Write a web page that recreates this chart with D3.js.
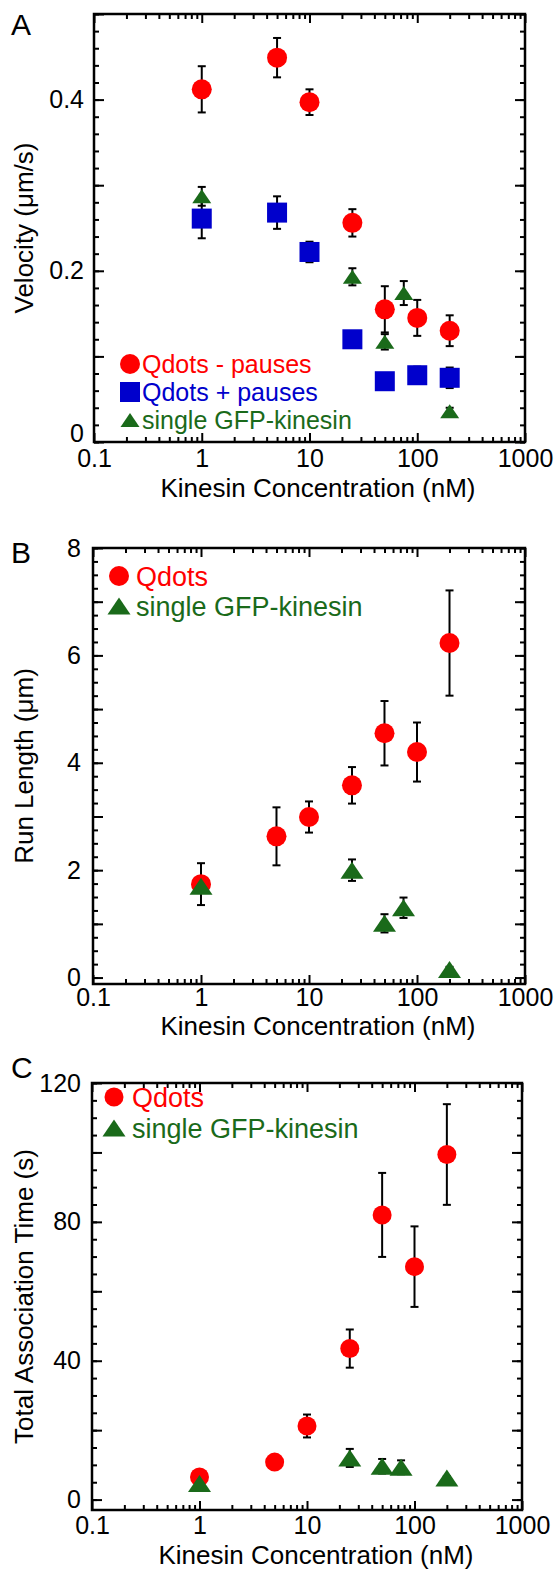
<!DOCTYPE html>
<html>
<head>
<meta charset="utf-8">
<script src="https://cdn.jsdelivr.net/npm/d3@7"></script>
<style>
  body { margin: 0; background: #fff; }
  svg { display: block; }
  text { font-family: "Liberation Sans", Arial, Helvetica, sans-serif; }
</style>
</head>
<body>
<svg width="554" height="1569"></svg>
<script>
// kinesin concentrations (nM)
const conc = [1, 5, 10, 25, 50, 100, 200];
const concGFP = [1, 25, 50, 75, 200];

// A: velocity (um/s)
const velQdotsMinus = [0.412, 0.449, 0.397, 0.256, 0.155, 0.145, 0.130];
const velQdotsMinusErr = [0.027, 0.023, 0.015, 0.016, 0.027, 0.021, 0.018];
const velQdotsPlus = [0.261, 0.268, 0.222, 0.120, 0.071, 0.078, 0.075];
const velQdotsPlusErr = [0.023, 0.019, 0.012, 0.006, 0.005, 0.010, 0.012];
const velGFP = [0.287, 0.193, 0.117, 0.174, 0.036];
const velGFPErr = [0.011, 0.010, 0.009, 0.014, 0.004];

// B: run length (um)
const runQdots = [1.74, 2.63, 2.99, 3.58, 4.55, 4.20, 6.23];
const runQdotsErr = [0.39, 0.54, 0.29, 0.34, 0.60, 0.55, 0.98];
const runGFP = [1.70, 2.00, 1.01, 1.30, 0.15];
const runGFPErr = [0.10, 0.20, 0.17, 0.19, 0.05];

// C: total association time (s)
const timeQdots = [6.5, 10.8, 21.2, 43.5, 82.0, 67.1, 99.4];
const timeQdotsErr = [1.0, 1.7, 3.3, 5.5, 12.1, 11.6, 14.5];
const timeGFP = [4.6, 12.0, 9.6, 9.3, 6.2];
const timeGFPErr = [0.5, 2.6, 2.1, 2.0, 0.5];

const xMajor = [0.1, 1, 10, 100, 1000];
const xMinor = [0.1, 1, 10, 100].flatMap(d => d3.range(2, 10).map(k => d * k));

const RED = '#ff0000', BLUE = '#0000cc', GREEN = '#1a6a1a';
const TICK_FS = 25, TITLE_FS = 26;

const svg = d3.select('svg');

const triPath = (w, h) => `M${-w / 2},${h / 2}L${w / 2},${h / 2}L0,${-h / 2}Z`;

const drawMarker = (sel, shape, color, size) => {
  if (shape === 'circle') {
    sel.append('circle').attr('r', size.r).attr('fill', color);
  } else if (shape === 'square') {
    sel.append('rect')
      .attr('x', -size.s / 2).attr('y', -size.s / 2)
      .attr('width', size.s).attr('height', size.s)
      .attr('fill', color);
  } else {
    sel.append('path').attr('d', triPath(size.w, size.h)).attr('fill', color);
  }
};

const drawPanel = (p) => {
  const g = svg.append('g');
  const x = d3.scaleLog().domain([0.1, 1000]).range([p.left, p.right]);
  const y = d3.scaleLinear().domain(p.yDomain).range([p.bottom, p.top]);

  // ticks on all four sides, pointing inwards
  const tickSets = [
    [d3.axisBottom(x).tickValues(xMinor), `translate(0,${p.bottom})`, 5],
    [d3.axisBottom(x).tickValues(xMajor), `translate(0,${p.bottom})`, 9],
    [d3.axisTop(x).tickValues(xMinor), `translate(0,${p.top})`, 5],
    [d3.axisTop(x).tickValues(xMajor), `translate(0,${p.top})`, 9],
    [d3.axisLeft(y).tickValues(p.yMinor), `translate(${p.left},0)`, 5],
    [d3.axisLeft(y).tickValues(p.yMajor), `translate(${p.left},0)`, 10],
    [d3.axisRight(y).tickValues(p.yMinor), `translate(${p.right},0)`, 5],
    [d3.axisRight(y).tickValues(p.yMajor), `translate(${p.right},0)`, 10]
  ];
  tickSets.forEach(([axis, tr, len]) => {
    const a = g.append('g').attr('transform', tr)
      .call(axis.tickSize(-len).tickFormat(''));
    a.select('.domain').remove();
    a.selectAll('line').attr('stroke', '#000').attr('stroke-width', 2);
  });

  // tick labels
  const xl = g.append('g').attr('transform', `translate(0,${p.bottom})`)
    .call(d3.axisBottom(x).tickValues(xMajor).tickSize(0).tickPadding(p.xPad)
      .tickFormat(d3.format('~g')));
  const yl = g.append('g').attr('transform', `translate(${p.left},0)`)
    .call(d3.axisLeft(y).tickValues(p.yLabels).tickSize(0).tickPadding(p.yPad)
      .tickFormat(p.fmt));
  [xl, yl].forEach(a => {
    a.select('.domain').remove();
    a.attr('font-size', TICK_FS).attr('font-family', null);
    a.selectAll('text').attr('fill', '#000');
  });
  if (p.zeroShift) {
    yl.selectAll('text').filter(d => d === 0).attr('dy', `${p.zeroShift}px`);
  }

  // frame
  g.append('rect')
    .attr('x', p.left).attr('y', p.top)
    .attr('width', p.right - p.left).attr('height', p.bottom - p.top)
    .attr('fill', 'none').attr('stroke', '#000').attr('stroke-width', 2.5);

  // axis titles
  g.append('text')
    .attr('x', p.xTitleX).attr('y', p.xTitleY)
    .attr('text-anchor', 'middle').attr('font-size', TITLE_FS)
    .text('Kinesin Concentration (nM)');
  g.append('text')
    .attr('transform', `translate(${p.yTitleX},${(p.top + p.bottom) / 2}) rotate(-90)`)
    .attr('text-anchor', 'middle').attr('font-size', TITLE_FS)
    .text(p.yTitle);
  g.append('text')
    .attr('x', 11).attr('y', p.letterY)
    .attr('font-size', 30)
    .text(p.letter);

  // error bars first, then markers
  p.series.forEach(s => {
    const eb = g.append('g').attr('stroke', '#000').attr('stroke-width', 2);
    s.xs.forEach((c, i) => {
      const cx = x(c);
      const y1 = y(s.vals[i] - s.errs[i]), y2 = y(s.vals[i] + s.errs[i]);
      eb.append('line').attr('x1', cx).attr('x2', cx).attr('y1', y1).attr('y2', y2);
      eb.append('line').attr('x1', cx - 4).attr('x2', cx + 4).attr('y1', y1).attr('y2', y1);
      eb.append('line').attr('x1', cx - 4).attr('x2', cx + 4).attr('y1', y2).attr('y2', y2);
    });
  });
  p.series.forEach(s => {
    s.xs.forEach((c, i) => {
      const m = g.append('g').attr('transform', `translate(${x(c)},${y(s.vals[i])})`);
      drawMarker(m, s.shape, s.color, s.size);
    });
  });

  // legend
  p.series.forEach((s, i) => {
    const ly = p.legendY + i * p.legendGap;
    const m = g.append('g').attr('transform', `translate(${p.legendX},${ly})`);
    drawMarker(m, s.shape, s.color, s.size);
    g.append('text')
      .attr('x', p.legendTextX).attr('y', ly)
      .attr('dy', '0.36em')
      .attr('font-size', p.legendFs)
      .attr('fill', s.color)
      .text(s.label);
  });
};

const circ = { r: 10 };
const sq = { s: 20 };

drawPanel({
  letter: 'A', letterY: 35,
  left: 94, right: 525, top: 14, bottom: 442,
  yDomain: [0, 0.5],
  yMinor: d3.range(0, 26).map(i => i * 0.02),
  yMajor: [0, 0.1, 0.2, 0.3, 0.4, 0.5],
  yLabels: [0, 0.2, 0.4],
  fmt: d => d === 0 ? '0' : d3.format('.1f')(d),
  zeroShift: -1,
  xPad: 7, yPad: 10,
  xTitleX: 318, xTitleY: 497,
  yTitle: 'Velocity (\u03bcm/s)', yTitleX: 33,
  legendX: 130, legendTextX: 142, legendY: 364, legendGap: 28, legendFs: 25,
  series: [
    { label: 'Qdots - pauses', xs: conc, vals: velQdotsMinus, errs: velQdotsMinusErr, shape: 'circle', color: RED, size: circ },
    { label: 'Qdots + pauses', xs: conc, vals: velQdotsPlus, errs: velQdotsPlusErr, shape: 'square', color: BLUE, size: sq },
    { label: 'single GFP-kinesin', xs: concGFP, vals: velGFP, errs: velGFPErr, shape: 'tri', color: GREEN, size: { w: 19, h: 14 } }
  ]
});

drawPanel({
  letter: 'B', letterY: 563,
  left: 93, right: 525, top: 548, bottom: 984,
  yDomain: [-0.12, 8],
  yMinor: d3.range(0, 33).map(i => i * 0.25),
  yMajor: d3.range(0, 9),
  yLabels: [0, 2, 4, 6, 8],
  fmt: d3.format('d'),
  xPad: 4.5, yPad: 12,
  xTitleX: 318, xTitleY: 1035,
  yTitle: 'Run Length (\u03bcm)', yTitleX: 33,
  legendX: 119, legendTextX: 136, legendY: 576, legendGap: 30, legendFs: 27,
  series: [
    { label: 'Qdots', xs: conc, vals: runQdots, errs: runQdotsErr, shape: 'circle', color: RED, size: circ },
    { label: 'single GFP-kinesin', xs: concGFP, vals: runGFP, errs: runGFPErr, shape: 'tri', color: GREEN, size: { w: 23, h: 17 } }
  ]
});

drawPanel({
  letter: 'C', letterY: 1078,
  left: 92, right: 522, top: 1083, bottom: 1510,
  yDomain: [-3, 120],
  yMinor: d3.range(0, 25).map(i => i * 5),
  yMajor: [0, 20, 40, 60, 80, 100, 120],
  yLabels: [0, 40, 80, 120],
  fmt: d3.format('d'),
  xPad: 6, yPad: 11,
  xTitleX: 316, xTitleY: 1564,
  yTitle: 'Total Association Time (s)', yTitleX: 33,
  legendX: 114, legendTextX: 132, legendY: 1097, legendGap: 31, legendFs: 27,
  series: [
    { label: 'Qdots', xs: conc, vals: timeQdots, errs: timeQdotsErr, shape: 'circle', color: RED, size: { r: 9.5 } },
    { label: 'single GFP-kinesin', xs: concGFP, vals: timeGFP, errs: timeGFPErr, shape: 'tri', color: GREEN, size: { w: 23, h: 17 } }
  ]
});
</script>
</body>
</html>
